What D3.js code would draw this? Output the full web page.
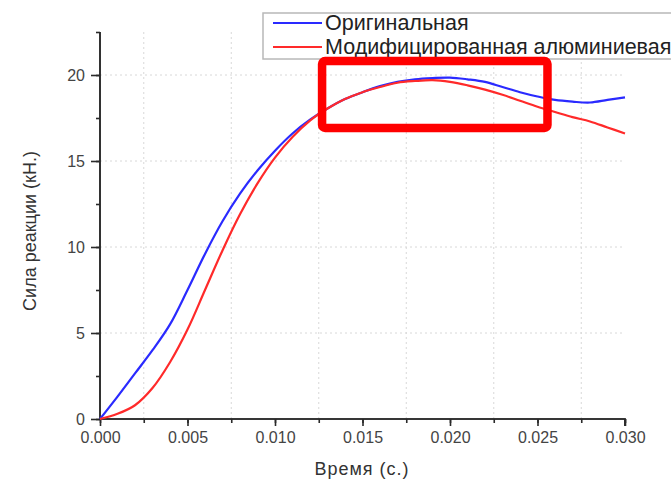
<!DOCTYPE html>
<html><head><meta charset="utf-8">
<script src="https://cdn.jsdelivr.net/npm/d3@7"></script>
<style>body{margin:0;background:#fff}svg{display:block}text{font-family:"Liberation Sans",Arial,sans-serif}</style>
</head><body>
<script>
const times = [0,0.001,0.002,0.003,0.004,0.005,0.006,0.007,0.008,0.009,0.010,0.011,0.012,0.013,0.014,0.015,0.016,0.017,0.018,0.019,0.020,0.021,0.022,0.023,0.024,0.025,0.026,0.027,0.028,0.029,0.030];
const original = [0,1.3,2.65,4.0,5.5,7.5,9.6,11.5,13.1,14.45,15.6,16.6,17.4,18.05,18.6,19.0,19.35,19.6,19.75,19.82,19.85,19.75,19.6,19.3,19.0,18.75,18.55,18.45,18.4,18.55,18.7];
const modified = [0,0.3,0.8,1.8,3.3,5.2,7.5,9.8,11.9,13.7,15.2,16.4,17.35,18.05,18.6,19.0,19.3,19.55,19.65,19.7,19.6,19.4,19.15,18.85,18.5,18.15,17.85,17.55,17.3,16.95,16.6];
const seriesNames = ["Оригинальная","Модифицированная алюминиевая"];
const xTicks = [0,0.005,0.010,0.015,0.020,0.025,0.030];
const yTicks = [0,5,10,15,20];
const xLabel = "Время (с.)";
const yLabel = "Сила реакции (кН.)";
const highlight = [0.01269, 0.02557, 20.81, 16.92]; // t0,t1,vTop,vBottom

const W=671,H=479;
const svg=d3.select("body").append("svg").attr("width",W).attr("height",H);
const x=d3.scaleLinear().domain([0,0.030]).range([100,625]);
const y=d3.scaleLinear().domain([0,22.5]).range([419,32]);

// grid
const xMinor=d3.range(0.0025,0.030,0.005);
svg.append("g").selectAll("line").data(xMinor).join("line")
 .attr("x1",d=>x(d)).attr("x2",d=>x(d)).attr("y1",y(0)).attr("y2",y(22.5))
 .attr("stroke","#d8d8d8").attr("stroke-width",1).attr("stroke-dasharray","2,3");
svg.append("g").selectAll("line").data(yTicks.slice(1)).join("line")
 .attr("x1",x(0)).attr("x2",x(0.030)).attr("y1",d=>y(d)).attr("y2",d=>y(d))
 .attr("stroke","#d8d8d8").attr("stroke-width",1).attr("stroke-dasharray","2,3");

// axes
const axCol="#2a2a2a";
const gx=svg.append("g").attr("transform",`translate(0,${y(0)})`);
gx.call(d3.axisBottom(x).tickValues(d3.range(0,0.0301,0.0025)).tickSize(4).tickFormat(""));
gx.append("g").call(d3.axisBottom(x).tickValues(xTicks).tickSize(7).tickPadding(6).tickFormat(d3.format(".3f")));
gx.selectAll("path,line").attr("stroke",axCol).attr("stroke-width",1.6);
gx.selectAll("path").attr("d",`M${x(0)},0H${x(0.030)}V7`);
gx.selectAll("text").attr("font-size",16).attr("fill","#444").attr("font-family","Liberation Sans, Arial, sans-serif");

const gy=svg.append("g").attr("transform",`translate(${x(0)},0)`);
gy.call(d3.axisLeft(y).tickValues(d3.range(0,22.51,2.5)).tickSize(4).tickFormat(""));
gy.append("g").call(d3.axisLeft(y).tickValues(yTicks).tickSize(9).tickPadding(6).tickFormat(d3.format("d")));
gy.selectAll("path,line").attr("stroke",axCol).attr("stroke-width",1.6);
gy.selectAll("path").attr("d",`M0,${y(22.5)}V${y(0)}`);
gy.selectAll("text").attr("font-size",16).attr("fill","#444").attr("font-family","Liberation Sans, Arial, sans-serif");

// lines
const line=d3.line().x((d,i)=>x(times[i])).y(d=>y(d)).curve(d3.curveCatmullRom.alpha(0.5));
const colors=["#2a2aff","#ff2a2a"];
[original,modified].forEach((s,i)=>{
  svg.append("path").attr("d",line(s)).attr("fill","none").attr("stroke",colors[i]).attr("stroke-width",2.2);
});

// axis titles
svg.append("text").attr("x",362).attr("y",475).attr("text-anchor","middle")
 .attr("font-size",18).attr("letter-spacing",1).attr("fill","#333").text(xLabel);
svg.append("text").attr("transform","translate(36,231) rotate(-90)").attr("text-anchor","middle")
 .attr("font-size",18).attr("fill","#333").text(yLabel);

// legend
const lg=svg.append("g");
lg.append("rect").attr("x",263).attr("y",13).attr("width",430).attr("height",46)
 .attr("fill","#fff").attr("stroke","#b8b8b8").attr("stroke-width",1.5);
seriesNames.forEach((n,i)=>{
  const yy=23+i*24;
  lg.append("line").attr("x1",273).attr("x2",322).attr("y1",yy).attr("y2",yy).attr("stroke",colors[i]).attr("stroke-width",2.2);
  lg.append("text").attr("x",325).attr("y",yy+7).attr("font-size",21.5).attr("fill","#222").text(n);
});

// highlight rectangle
svg.append("rect").attr("x",x(highlight[0])).attr("y",y(highlight[2]))
 .attr("width",x(highlight[1])-x(highlight[0])).attr("height",y(highlight[3])-y(highlight[2]))
 .attr("rx",3).attr("fill","none").attr("stroke","#ff0000").attr("stroke-width",8.5);
</script>
</body></html>
